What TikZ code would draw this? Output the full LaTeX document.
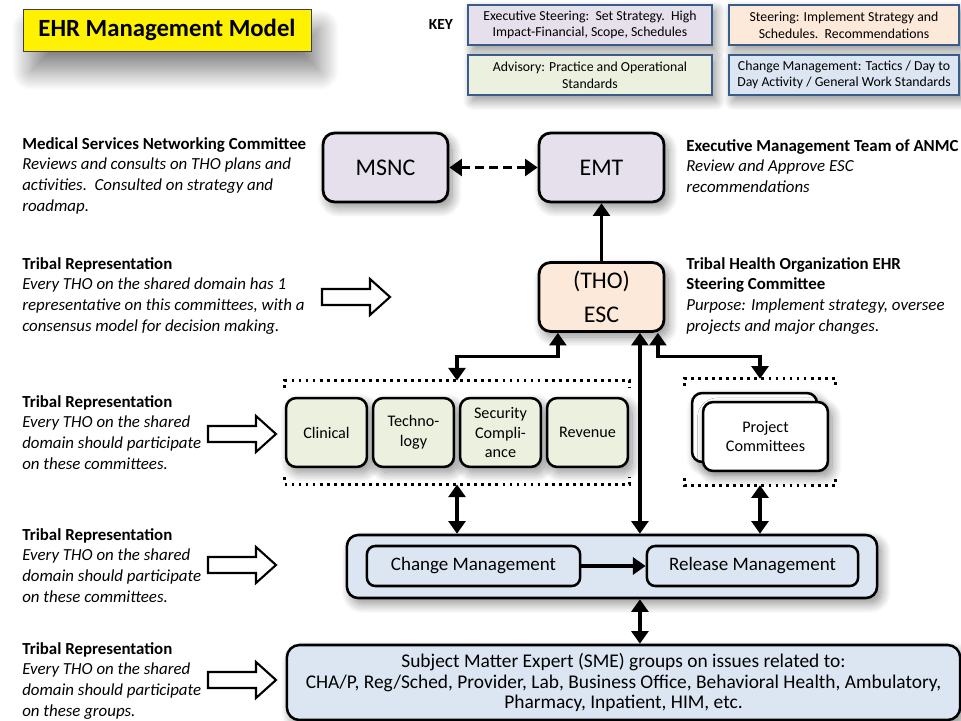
\documentclass[tikz,border=0pt]{standalone}
\usepackage{fontspec}
\setmainfont{Carlito}
\usetikzlibrary{arrows.meta,positioning,fit,shadows.blur}
\definecolor{keyblue}{RGB}{56,93,138}
\definecolor{execfill}{RGB}{229,224,236}
\definecolor{steerfill}{RGB}{253,233,217}
\definecolor{advfill}{RGB}{235,241,222}
\definecolor{chgfill}{RGB}{220,230,242}
\definecolor{titleline}{RGB}{60,60,90}

\begin{document}
\begin{tikzpicture}[x=0.025cm,y=-0.025cm,
  every node/.style={font=\fontsize{12}{15}\selectfont},
  softshadow/.style={blur shadow={shadow xshift=3pt,shadow yshift=-4pt,shadow blur radius=7pt,
                     shadow blur steps=16,shadow opacity=45}},
  keybox/.style={draw=keyblue,line width=1.4pt,minimum height=1cm,align=center,
                 font=\fontsize{9.8}{11.8}\selectfont,inner sep=1pt,softshadow},
  unit/.style={draw=black,line width=2pt,rounded corners=8pt,minimum width=3.12cm,
               minimum height=1.72cm,align=center,font=\fontsize{17}{24}\selectfont,softshadow},
  cmte/.style={draw=black,line width=1.8pt,rounded corners=7pt,fill=advfill,minimum width=2.02cm,
               minimum height=1.72cm,align=center,font=\fontsize{11.5}{14.2}\selectfont,inner sep=1pt,softshadow},
  dotline/.style={line width=2pt,dash pattern=on 2pt off 3pt},
  mgmt/.style={draw=black,line width=1.8pt,rounded corners=6pt,fill=chgfill,minimum height=1cm,
               font=\fontsize{13.5}{16}\selectfont},
  note/.style={anchor=north west,align=left,inner sep=0pt,font=\fontsize{12}{14.8}\selectfont\itshape},
  hollow/.style={draw=black,line width=1.5pt,fill=white,line join=miter},
  link/.style={line width=2.4pt,-{Triangle[length=9pt,width=12pt]}},
  twoway/.style={line width=2.4pt,{Triangle[length=9pt,width=12pt]}-{Triangle[length=9pt,width=12pt]}}
]
  \useasboundingbox (0,0) rectangle (961,721);

  % title and key
  \node[draw=titleline,line width=0.6pt,fill=yellow,minimum width=7.2cm,minimum height=1.05cm,
        font=\fontsize{17.6}{20}\selectfont\bfseries,
        blur shadow={shadow xshift=6pt,shadow yshift=-14pt,shadow blur radius=14pt,
                     shadow blur steps=24,shadow opacity=50}]
        (title) at (167,30) {EHR Management Model};
  \node[font=\fontsize{11}{12}\selectfont\bfseries] (key) at (441,24) {KEY};
  \node[keybox,fill=execfill,minimum width=6.08cm] (kexec) at (590,25)
       {Executive Steering:\ \ Set Strategy.\ \ High\\Impact-Financial, Scope, Schedules};
  \node[keybox,fill=steerfill,minimum width=5.75cm] (ksteer) at (844,25)
       {Steering: Implement Strategy and\\Schedules.\ \ Recommendations};
  \node[keybox,fill=advfill,minimum width=6.08cm] (kadv) at (590,75)
       {Advisory: Practice and Operational\\Standards};
  \node[keybox,fill=chgfill,minimum width=5.75cm] (kchg) at (844,75)
       {Change Management: Tactics / Day to\\Day Activity / General Work Standards};

  % left-hand notes
  \node[note] (msncnote) at (22,137) {{\upshape\bfseries Medical Services Networking Committee}\\
       Reviews and consults on THO plans and\\activities.\ \ Consulted on strategy and\\roadmap.};
  \node[note] (repesc) at (22,257) {{\upshape\bfseries Tribal Representation}\\
       Every THO on the shared domain has 1\\representative on this committees, with a\\consensus model for decision making.};
  \node[note] (repcmte) at (22,395) {{\upshape\bfseries Tribal Representation}\\
       Every THO on the shared\\domain should participate\\on these committees.};
  \node[note] (repmgmt) at (22,528) {{\upshape\bfseries Tribal Representation}\\
       Every THO on the shared\\domain should participate\\on these committees.};
  \node[note] (repsme) at (22,642) {{\upshape\bfseries Tribal Representation}\\
       Every THO on the shared\\domain should participate\\on these groups.};

  % right-hand notes
  \node[note] (emtnote) at (686,139) {{\upshape\bfseries Executive Management Team of ANMC}\\
       Review and Approve ESC\\recommendations};
  \node[note] (escnote) at (686,257) {{\upshape\bfseries Tribal Health Organization EHR}\\
       {\upshape\bfseries Steering Committee}\\
       Purpose: Implement strategy, oversee\\projects and major changes.};

  \foreach \ax/\ay in {322/297, 208/434, 208/565, 208/680}
    \draw[hollow] (\ax,\ay-8) -- (\ax+48,\ay-8) -- (\ax+48,\ay-18) -- (\ax+68,\ay)
                  -- (\ax+48,\ay+18) -- (\ax+48,\ay+8) -- (\ax,\ay+8) -- cycle;

  % committees
  \node[unit,fill=execfill] (msnc) at (385.5,167.5) {MSNC};
  \node[unit,fill=execfill] (emt) at (601.5,167.5) {EMT};
  \node[unit,fill=steerfill] (esc) at (601.5,297) {(THO)\\ESC};

  \node[cmte] (clin) at (326.5,432.5) {Clinical};
  \node[cmte] (tech) at (413.5,432.5) {Techno-\\logy};
  \node[cmte] (sec) at (500.5,432.5) {Security\\Compli-\\ance};
  \node[cmte] (rev) at (587.5,432.5) {Revenue};

  \node[cmte,fill=white,minimum width=3.12cm] (projback) at (754.5,427.5) {};
  \node[cmte,fill=white,minimum width=3.12cm] (proj) at (765.5,436.5) {Project\\Committees};

  \node[fit=(clin)(rev),inner xsep=0pt,inner ysep=0.4cm] (comm) {};
  \node[fit=(projback)(proj),inner xsep=0.16cm,inner ysep=0.32cm] (projgrp) {};
  \foreach \g in {comm,projgrp}{
    \draw[dotline] ([yshift=-5pt]\g.north west) -- (\g.north west) -- (\g.north east) -- ([yshift=-5pt]\g.north east);
    \draw[dotline] ([yshift=5pt]\g.south west) -- (\g.south west) -- (\g.south east) -- ([yshift=5pt]\g.south east);
  }

  \node[mgmt,minimum width=13.25cm,minimum height=1.575cm,rounded corners=8pt,softshadow] (mgmt) at (612,566.5) {};
  \node[mgmt,minimum width=5.33cm] (chg) at (473.5,566) {Change Management};
  \node[mgmt,minimum width=5.28cm] (rel) at (752.5,566) {Release Management};

  \node[mgmt,minimum width=16.83cm,minimum height=1.875cm,rounded corners=9pt,align=center,
        font=\fontsize{13.8}{14.6}\selectfont,softshadow] (sme) at (623.5,682.5)
       {\strut Subject Matter Expert (SME) groups on issues related to:\\
        CHA/P, Reg/Sched, Provider, Lab, Business Office, Behavioral Health, Ambulatory,\\
        Pharmacy, Inpatient, HIM, etc.};

  % connectors
  \draw[twoway,dash pattern=on 6pt off 4pt] (msnc) -- (emt);
  \draw[link] (esc) -- (emt);
  \coordinate (escl) at ([xshift=-1.09cm]esc.south);
  \coordinate (trunk) at ([xshift=0.96cm]esc.south);
  \coordinate (escr) at ([xshift=1.41cm]esc.south);
  \draw[twoway] (comm.north) -- ++(0,-24) -| (escl);
  \draw[twoway] (projgrp.north) -- ++(0,-22) -| (escr);
  \draw[twoway] (trunk) -- (trunk |- mgmt.north);
  \draw[twoway] (comm.south) -- (comm.south |- mgmt.north);
  \draw[twoway] (projgrp.south) -- (projgrp.south |- mgmt.north);
  \draw[twoway] (trunk |- mgmt.south) -- (trunk |- sme.north);
  \draw[link] (chg) -- (rel);
\end{tikzpicture}
\end{document}
